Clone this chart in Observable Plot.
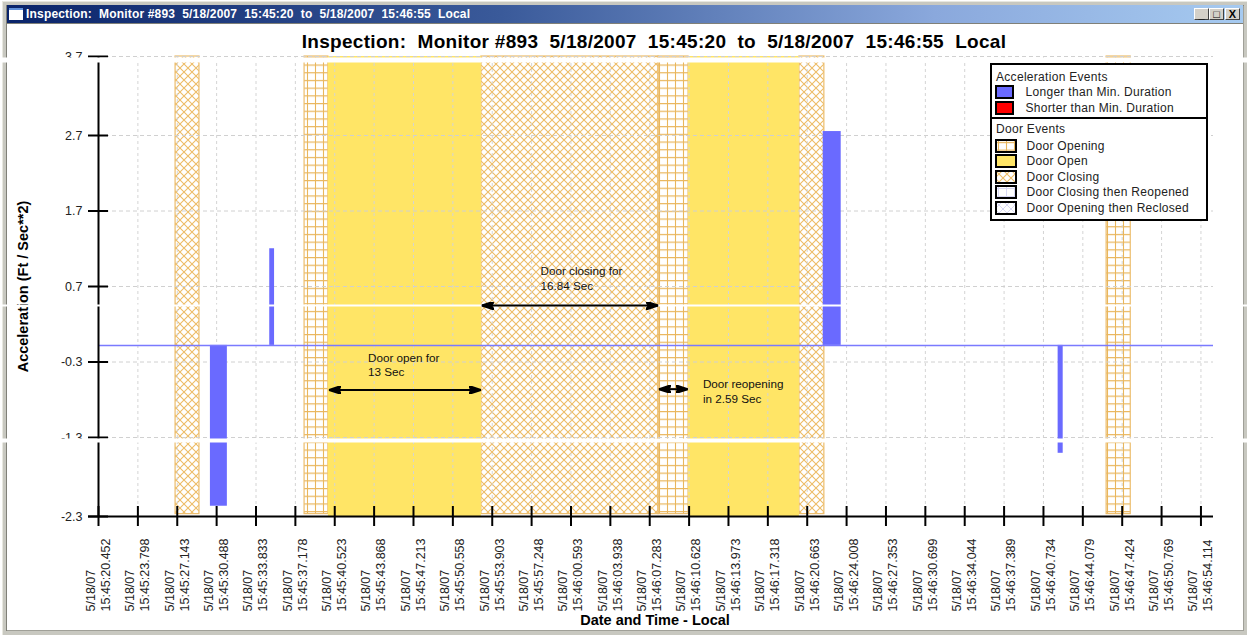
<!DOCTYPE html>
<html><head><meta charset="utf-8">
<script src="https://cdn.jsdelivr.net/npm/d3@7"></script>
<script src="https://cdn.jsdelivr.net/npm/@observablehq/plot@0.6"></script>
<style>
html,body{margin:0;padding:0;background:#fff;overflow:hidden;font-family:"Liberation Sans",Arial,sans-serif}
#stage{position:relative;width:1247px;height:635px;overflow:hidden}
#stage>*{position:absolute}
#frame{left:3px;top:2px;width:1238px;height:626px;border:1px solid #c8c8c0;border-width:3px 4px 4px 3px;outline:1px solid #e8e8e0;box-shadow:inset 1px 1px 0 #808078,inset -1px -1px 0 #a0a098}
#bar{left:7px;top:5px;width:1236px;height:18px;background:linear-gradient(90deg,#0a246a 0%,#3a5a9a 40%,#8aa8dc 75%,#a6caf0 100%);color:#fff;font:bold 12px/18px "Liberation Sans",Arial,sans-serif;letter-spacing:.18px;white-space:pre;text-indent:19px;box-shadow:0 1px 0 #808078}
#icon{left:9px;top:8px;width:14px;height:12px;background:#fff;border-top:2px solid #5f8fd8;box-sizing:border-box}
.btn{top:8px;width:15px;height:12px;background:#d4d0c8;border:1px solid;border-color:#fff #404040 #404040 #fff;box-sizing:border-box;font:bold 11px/10px "Liberation Sans",Arial,sans-serif;text-align:center;color:#000}
#title{left:0;width:1308px;top:31px;text-align:center;font:bold 19px/22px "Liberation Sans",Arial,sans-serif;letter-spacing:.3px;white-space:pre;color:#000}
#legend{left:990px;top:63px;width:214px;height:154px;background:#fff;border:2px solid #000;font:12px/15px "Liberation Sans",Arial,sans-serif;letter-spacing:.3px;color:#222}
#legend>*{position:absolute;white-space:pre}
#chart svg{display:block}
</style></head>
<body>
<div id="stage">
  <div id="frame"></div>
  <div id="bar">Inspection:  Monitor #893  5/18/2007  15:45:20  to  5/18/2007  15:46:55  Local</div>
  <div id="icon"></div>
  <div class="btn" style="left:1194px">_</div>
  <div class="btn" style="left:1209px">&#9633;</div>
  <div class="btn" style="left:1225px">X</div>
  <svg width="0" height="0" style="left:0;top:0">
    <defs>
      <pattern id="gridHatch" patternUnits="userSpaceOnUse" width="8" height="7.7">
        <path d="M3.5 0V7.7M0 3.5H8" stroke="#e9b65c" stroke-width="1.1" fill="none"/>
      </pattern>
      <pattern id="diagHatch" patternUnits="userSpaceOnUse" width="8" height="8">
        <path d="M0 0L8 8M8 0L0 8" stroke="#edbc66" stroke-width="1.1" fill="none"/>
      </pattern>
      <pattern id="gridPale" patternUnits="userSpaceOnUse" width="8" height="8">
        <path d="M3.5 0V8M0 3.5H8" stroke="#d8d8f4" stroke-width="1" fill="none"/>
      </pattern>
      <pattern id="diagPale" patternUnits="userSpaceOnUse" width="8" height="8">
        <path d="M0 0L8 8M8 0L0 8" stroke="#d8d8f4" stroke-width="1" fill="none"/>
      </pattern>
    </defs>
  </svg>
  <div id="chart" style="left:0;top:0"></div>
  <div id="title">Inspection:  Monitor #893  5/18/2007  15:45:20  to  5/18/2007  15:46:55  Local</div>
  <div id="legend"></div>
</div>
<script>
const xTickTimes = ["15:45:20.452","15:45:23.798","15:45:27.143","15:45:30.488","15:45:33.833","15:45:37.178","15:45:40.523","15:45:43.868","15:45:47.213","15:45:50.558","15:45:53.903","15:45:57.248","15:46:00.593","15:46:03.938","15:46:07.283","15:46:10.628","15:46:13.973","15:46:17.318","15:46:20.663","15:46:24.008","15:46:27.353","15:46:30.699","15:46:34.044","15:46:37.389","15:46:40.734","15:46:44.079","15:46:47.424","15:46:50.769","15:46:54.114"];
const dateLabel = "5/18/07";
const yTicks = [3.7,2.7,1.7,0.7,-0.3,-1.3,-2.3];
const xDomain = ["15:45:20.452","15:46:55.180"];

const doorStart = ["15:45:27.00","15:45:37.96","15:45:39.98","15:45:52.98","15:46:08.03","15:46:10.58","15:46:20.00","15:46:46.10"];
const doorEnd   = ["15:45:29.03","15:45:39.98","15:45:52.98","15:46:08.03","15:46:10.58","15:46:20.00","15:46:22.12","15:46:48.15"];
const doorKind  = ["closing","opening","open","closing","opening","open","closing","opening"];

const accelStart = ["15:45:29.96","15:45:35.00","15:46:22.02","15:46:41.98"];
const accelEnd   = ["15:45:31.40","15:45:35.41","15:46:23.55","15:46:42.41"];
const accelValue = [-2.17,1.2,2.75,-1.5];
const baseline = -0.08;

const spanStart = ["15:45:40.05","15:45:53.03","15:46:08.08"];
const spanEnd   = ["15:45:52.93","15:46:07.98","15:46:10.50"];
const spanY     = [-0.67,0.448,-0.66];
const noteTime  = ["15:45:43.35","15:45:58.00","15:46:11.80"];
const noteY     = [-0.33,0.82,-0.68];
const noteText  = ["Door open for\n13 Sec","Door closing for\n16.84 Sec","Door reopening\nin 2.59 Sec"];

const scanGaps = [[3.656,5],[0.448,2],[-1.338,4]];

const accelLegend = [["Longer than Min. Duration","#6a6aff"],["Shorter than Min. Duration","#ff0000"]];
const doorLegend = [["Door Opening","url(#gridHatch)"],["Door Open","#ffe566"],["Door Closing","url(#diagHatch)"],["Door Closing then Reopened","url(#gridPale)"],["Door Opening then Reclosed","url(#diagPale)"]];

const T = s => new Date("2007-05-18T" + s + "Z");
const ticks = xTickTimes.map(T);
const fills = {closing:"url(#diagHatch)", opening:"url(#gridHatch)", open:"#ffe566"};
const doors = doorKind.map((k,i)=>({k, a:T(doorStart[i]), b:T(doorEnd[i])}));
const accel = accelValue.map((v,i)=>({v, a:T(accelStart[i]), b:T(accelEnd[i])}));
const spans = spanY.map((y,i)=>({y, a:T(spanStart[i]), b:T(spanEnd[i])}));
const notes = noteText.map((t,i)=>({t, x:T(noteTime[i]), y:noteY[i]}));

function headMarker(color, context){
  const ns = "http://www.w3.org/2000/svg", doc = context.document;
  const m = doc.createElementNS(ns,"marker");
  m.setAttribute("viewBox","-12 -4 13 8");
  m.setAttribute("markerWidth",13); m.setAttribute("markerHeight",8);
  m.setAttribute("markerUnits","userSpaceOnUse");
  m.setAttribute("orient","auto-start-reverse");
  const p = doc.createElementNS(ns,"path");
  p.setAttribute("d","M-12,-4 L0,0 L-12,4 L-9,0 Z");
  p.setAttribute("fill",color);
  m.appendChild(p);
  return m;
}

const bands = k => Plot.rect(doors.filter(d=>d.k===k), {
  x1:"a", x2:"b", y1: k==="open" ? -2.3 : -2.27, y2:3.7,
  fill:fills[k], stroke: k==="open" ? "none" : "#ecbd6c", strokeWidth:1.2
});

const plot = Plot.plot({
  width:1247, height:635,
  marginLeft:98, marginRight:34, marginTop:56, marginBottom:119,
  style:{fontFamily:'"Liberation Sans",Arial,sans-serif', background:"transparent", overflow:"visible", color:"#000"},
  x:{type:"utc", domain:xDomain.map(T), axis:null},
  y:{type:"linear", domain:[-2.3,-1.3,2.7,3.7], range:[516,437,135,56], axis:null},
  marks:[
    bands("closing"), bands("opening"), bands("open"),
    Plot.ruleX(ticks.slice(1), {y1:-2.3, y2:3.7, stroke:"#d4d4d4", strokeDasharray:"3,3", strokeWidth:1}),
    Plot.ruleY(yTicks.slice(0,-1), {x1:ticks[0], x2:T(xDomain[1]), stroke:"#d0d0d0", strokeDasharray:"4,3", strokeWidth:1}),
    Plot.rect(accel, {x1:"a", x2:"b", y1:baseline, y2:"v", fill:"#6a6aff"}),
    Plot.ruleY([baseline], {stroke:"#7a7aff", strokeWidth:1.5}),
    Plot.ruleX([ticks[0]], {y1:-2.3, y2:3.7, stroke:"#000", strokeWidth:2}),
    Plot.ruleY([-2.3], {stroke:"#000", strokeWidth:2, insetLeft:-10}),
    Plot.ruleX(ticks, {y1:-2.3, y2:-2.3, insetTop:-10, insetBottom:-10, stroke:"#000", strokeWidth:2}),
    Plot.ruleY(yTicks, {x1:ticks[0], x2:ticks[0], insetLeft:-10, insetRight:-10, stroke:"#000", strokeWidth:2}),
    Plot.text(yTicks, {y:d=>d, text:d=>d.toFixed(1), frameAnchor:"left", dx:-16, textAnchor:"end", fontSize:12.5, fill:"#222"}),
    Plot.text(ticks, {x:d=>d, text:(d,i)=>dateLabel+"\n"+xTickTimes[i], frameAnchor:"bottom", dx:-1, dy:95, rotate:-90, textAnchor:"start", lineAnchor:"middle", lineHeight:1.2, fontSize:12.5, fill:"#222"}),
    Plot.text(["Acceleration (Ft / Sec**2)"], {frameAnchor:"left", dx:-75, rotate:-90, textAnchor:"middle", fontWeight:"bold", fontSize:14.5, fill:"#000"}),
    Plot.text(["Date and Time - Local"], {frameAnchor:"bottom", dx:-1, dy:104, fontWeight:"bold", fontSize:14.5, lineAnchor:"middle", fill:"#000"}),
    Plot.ruleY(scanGaps, {y:d=>d[0], strokeWidth:d=>d[1], stroke:"#fff", insetLeft:-98, insetRight:-34}),
    Plot.link(spans, {x1:"a", x2:"b", y1:"y", y2:"y", stroke:"#000", strokeWidth:2, markerStart:headMarker, markerEnd:headMarker}),
    Plot.text(notes, {x:"x", y:"y", text:"t", textAnchor:"start", lineAnchor:"middle", lineHeight:1.27, fontSize:11.7, fill:"#111"})
  ]
});
document.getElementById("chart").appendChild(plot);

const lg = document.getElementById("legend");
const add = (html, l, t) => { const e=document.createElement("div"); e.innerHTML=html; e.style.left=l+"px"; e.style.top=t+"px"; lg.appendChild(e); return e; };
const swatch = (w,h,fill) => `<svg width="${w}" height="${h}" style="display:block"><rect x="1" y="1" width="${w-2}" height="${h-2}" fill="${fill}" stroke="#000" stroke-width="2"/></svg>`;
add("Acceleration Events", 4, 4.5);
accelLegend.forEach(([n,c],i)=>{ add(swatch(19,14,c),3,20+i*15.5); add(n,33.5,20+i*15.5); });
const sep = add("",0,52); sep.style.width="214px"; sep.style.height="2px"; sep.style.background="#000";
add("Door Events", 4, 56.5);
doorLegend.forEach(([n,c],i)=>{ add(swatch(22,14,c),3,74+i*15.4); add(n,34.5,74+i*15.4); });
</script>
</body></html>
